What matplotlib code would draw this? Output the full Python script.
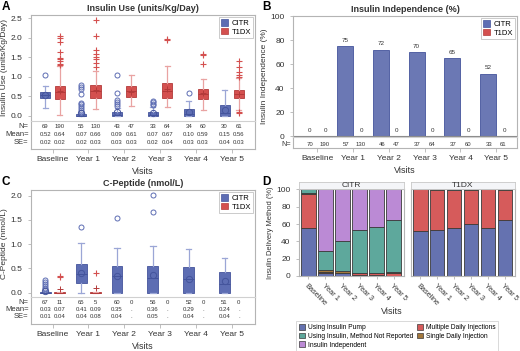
import matplotlib.pyplot as plt
import numpy as np
from matplotlib.patches import Patch

plt.rcParams["font.family"] = ["Liberation Sans", "DejaVu Sans"]

W, H = 520, 351
BLUE = "#5d6db3"
BLUE_DK = "#44549c"
BLUE_LT = "#9ba6d6"
RED = "#d4504f"
RED_DK = "#b33a3a"
RED_LT = "#e9a3a2"
FRAME = "#b4b4b4"
TXT = "#333333"

visits = ["Baseline", "Year 1", "Year 2", "Year 3", "Year 4", "Year 5"]
groups = ["CITR", "T1DX"]

# A: insulin use (units/Kg/Day) - box statistics
use_citr_q1 = [0.45, 0.0, 0.0, 0.0, 0.0, 0.0]
use_citr_med = [0.52, 0.0, 0.02, 0.02, 0.04, 0.06]
use_citr_q3 = [0.60, 0.03, 0.10, 0.10, 0.17, 0.27]
use_citr_lo = [0.20, 0.0, 0.0, 0.0, 0.0, 0.0]
use_citr_hi = [0.77, 0.06, 0.20, 0.22, 0.38, 0.65]
use_citr_fl = [[1.05], [0.1, 0.15, 0.2, 0.25, 0.3, 0.33, 0.55, 0.68, 0.73, 0.78],
               [0.25, 0.3, 0.35, 0.4, 0.57, 1.05], [0.26, 0.3, 0.34, 0.37], [0.57], []]
use_t1dx_q1 = [0.43, 0.45, 0.47, 0.45, 0.42, 0.45]
use_t1dx_med = [0.60, 0.62, 0.62, 0.62, 0.55, 0.55]
use_t1dx_q3 = [0.77, 0.78, 0.75, 0.83, 0.67, 0.65]
use_t1dx_lo = [0.02, 0.17, 0.25, 0.23, 0.15, 0.13]
use_t1dx_hi = [1.28, 1.15, 1.03, 1.27, 0.95, 0.97]
use_t1dx_fl = [[1.30, 1.33, 1.40, 1.45, 1.47, 1.63, 1.90, 2.00, 2.05],
               [1.25, 1.35, 1.45, 1.50, 1.57, 1.68, 2.03, 2.45], [],
               [1.95, 1.97], [1.33, 1.55, 1.57], [0.07, 0.10, 1.0, 1.03, 1.12, 1.25, 1.40]]
use_citr_n = [69, 55, 43, 33, 34, 30]
use_citr_mean = [0.52, 0.07, 0.09, 0.07, 0.10, 0.15]
use_citr_se = [0.02, 0.02, 0.03, 0.02, 0.03, 0.04]
use_t1dx_n = [190, 130, 47, 64, 60, 61]
use_t1dx_mean = [0.64, 0.66, 0.61, 0.67, 0.59, 0.56]
use_t1dx_se = [0.02, 0.03, 0.03, 0.04, 0.03, 0.03]

# B: insulin independence (%)
ind_citr = [0, 75, 72, 70, 65, 52]
ind_t1dx = [0, 0, 0, 0, 0, 0]
ind_citr_n = [70, 57, 46, 37, 37, 33]
ind_t1dx_n = [190, 130, 47, 64, 60, 61]

# C: C-peptide (nmol/L)
cp_citr_q1 = [0.0, 0.19, 0.0, 0.0, 0.0, 0.0]
cp_citr_med = [0.0, 0.38, 0.35, 0.30, 0.28, 0.17]
cp_citr_q3 = [0.02, 0.60, 0.55, 0.54, 0.52, 0.43]
cp_citr_lo = [0.0, 0.0, 0.0, 0.0, 0.0, 0.0]
cp_citr_hi = [0.04, 1.03, 0.93, 0.97, 0.90, 0.72]
cp_citr_fl = [[0.07, 0.10, 0.13, 0.17, 0.22, 0.27], [1.35], [1.53], [1.67, 2.02], [], []]
cp_t1dx_q1 = [0.0, 0.0]
cp_t1dx_med = [0.0, 0.0]
cp_t1dx_q3 = [0.01, 0.02]
cp_t1dx_lo = [0.0, 0.0]
cp_t1dx_hi = [0.02, 0.02]
cp_t1dx_fl = [[0.33, 0.35], [0.40]]
cp_citr_n = [67, 65, 60, 56, 52, 51]
cp_citr_mean = [0.03, 0.41, 0.35, 0.36, 0.29, 0.24]
cp_citr_se = [0.01, 0.04, 0.04, 0.05, 0.04, 0.04]
cp_t1dx_n = [11, 5, 0, 0, 0, 0]
cp_t1dx_mean = [0.07, 0.09, None, None, None, None]
cp_t1dx_se = [0.04, 0.08, None, None, None, None]

# D: insulin delivery method (%)
methods = ["Using Insulin Pump", "Multiple Daily Injections", "Single Daily Injection",
           "Using Insulin, Method Not Reported", "Insulin Independent"]
method_colors = ["#6572b0", "#d65b5b", "#a3773c", "#5ea89c", "#bb8ad5"]
dm_citr = {
    "Using Insulin Pump": [55, 4, 3, 1, 1, 0],
    "Multiple Daily Injections": [40, 1, 1, 2, 2, 3],
    "Single Daily Injection": [1, 2, 2, 0, 1, 2],
    "Using Insulin, Method Not Reported": [4, 22, 35, 50, 53, 60],
    "Insulin Independent": [0, 71, 59, 47, 43, 35],
}
dm_t1dx = {
    "Using Insulin Pump": [52, 53, 56, 60, 56, 65],
    "Multiple Daily Injections": [48, 46, 43, 39, 44, 34],
    "Single Daily Injection": [0, 1, 0, 1, 0, 1],
    "Using Insulin, Method Not Reported": [0, 0, 1, 0, 0, 0],
    "Insulin Independent": [0, 0, 0, 0, 0, 0],
}


def rect(x0, y0, x1, y1):
    return [x0 / W, 1 - y1 / H, (x1 - x0) / W, (y1 - y0) / H]


def frame(ax):
    for s in ax.spines.values():
        s.set_color(FRAME)
        s.set_linewidth(0.8)
    ax.tick_params(colors=FRAME, labelcolor=TXT, labelsize=6, length=2.5, width=0.6)


def draw_boxes(ax, pos, q1, med, q3, lo, hi, mean, fl, kind, width):
    stats = [dict(q1=a, med=b, q3=c, whislo=d, whishi=e, mean=m, fliers=f)
             for a, b, c, d, e, m, f in zip(q1, med, q3, lo, hi, mean, fl)]
    if kind == "CITR":
        fc, ec, lc = BLUE, BLUE_DK, BLUE_LT
        fp = dict(marker="o", markersize=3.6, markerfacecolor="none", markeredgecolor=BLUE,
                  markeredgewidth=0.7)
        mp = dict(marker="o", markersize=4.5, markerfacecolor="none", markeredgecolor=BLUE_DK,
                  markeredgewidth=0.7)
    else:
        fc, ec, lc = RED, RED_DK, RED_LT
        fp = dict(marker="+", markersize=4, markeredgecolor=RED, markeredgewidth=0.8)
        mp = dict(marker="+", markersize=5, markeredgecolor=RED_DK, markeredgewidth=0.7)
    ax.bxp(stats, positions=pos, widths=width, patch_artist=True, showmeans=True,
           boxprops=dict(facecolor=fc, edgecolor=ec, linewidth=0.6),
           medianprops=dict(color=ec, linewidth=0.7),
           whiskerprops=dict(color=lc, linewidth=0.9),
           capprops=dict(color=lc, linewidth=0.9),
           flierprops=fp, meanprops=mp, manage_ticks=False)


def fmt(v, num):
    if v is None:
        return "."
    return f"{v:.2f}" if num else str(v)


def stat_table(ax, rows, ys, label_size=5.5):
    x = np.arange(len(visits))
    for (label, vals_c, vals_t, num), y in zip(rows, ys):
        ax.text(-0.01, y, label, transform=ax.get_yaxis_transform(), ha="right", va="center",
                fontsize=label_size, color=TXT)
        for i in range(len(visits)):
            ax.text(x[i] - 0.2, y, fmt(vals_c[i], num), ha="center", va="center", fontsize=4.3, color=TXT)
            ax.text(x[i] + 0.2, y, fmt(vals_t[i], num), ha="center", va="center", fontsize=4.3, color=TXT)


def legend_ab(ax):
    handles = [Patch(facecolor=BLUE, edgecolor=BLUE_DK, linewidth=0.5),
               Patch(facecolor=RED, edgecolor=RED_DK, linewidth=0.5)]
    leg = ax.legend(handles, groups, loc="upper right", fontsize=5.5, frameon=True, fancybox=False,
                    handlelength=0.9, handleheight=0.9, handletextpad=0.4, borderpad=0.3,
                    labelspacing=0.15, borderaxespad=0.25)
    leg.get_frame().set_edgecolor(FRAME)
    leg.get_frame().set_linewidth(0.6)


def table_axis(ax, xlim):
    frame(ax)
    ax.spines["top"].set_color("#d0d0d0")
    ax.set_xlim(*xlim)
    ax.set_ylim(0, 1)
    ax.set_yticks([])
    ax.set_xticks(np.arange(len(visits)))
    ax.set_xticklabels(visits)
    ax.tick_params(axis="x", length=3, pad=2)
    ax.set_xlabel("Visits", fontsize=6.5, color=TXT, labelpad=3)


fig = plt.figure(figsize=(W / 100, H / 100), dpi=100)
x = np.arange(len(visits))

# ---- A ----
axA = fig.add_axes(rect(31, 15, 255, 121))
axAt = fig.add_axes(rect(31, 121, 255, 149))
frame(axA)
xlimA = (-0.6, 5.65)
draw_boxes(axA, x - 0.2, use_citr_q1, use_citr_med, use_citr_q3, use_citr_lo, use_citr_hi,
           use_citr_mean, use_citr_fl, "CITR", 0.28)
draw_boxes(axA, x + 0.2, use_t1dx_q1, use_t1dx_med, use_t1dx_q3, use_t1dx_lo, use_t1dx_hi,
           use_t1dx_mean, use_t1dx_fl, "T1DX", 0.28)
axA.set_xlim(*xlimA)
axA.set_ylim(-0.14, 2.58)
axA.set_yticks([0, 0.5, 1.0, 1.5, 2.0, 2.5])
axA.set_yticklabels(["0.0", "0.5", "1.0", "1.5", "2.0", "2.5"])
axA.tick_params(axis="x", bottom=False, labelbottom=False)
axA.spines["bottom"].set_visible(False)
axA.set_ylabel("Insulin Use (units/Kg/Day)", fontsize=6, color=TXT, labelpad=2)
axA.set_title("Insulin Use (units/Kg/Day)", fontsize=6.5, fontweight="bold", color=TXT, pad=3)
legend_ab(axA)
table_axis(axAt, xlimA)
stat_table(axAt, [("N=", use_citr_n, use_t1dx_n, False),
                  ("Mean=", use_citr_mean, use_t1dx_mean, True),
                  ("SE=", use_citr_se, use_t1dx_se, True)], [0.79, 0.53, 0.25])

# ---- B ----
axB = fig.add_axes(rect(293, 16, 517, 137))
axBt = fig.add_axes(rect(293, 137, 517, 148))
frame(axB)
xlimB = (-0.68, 5.58)
bc = axB.bar(x - 0.225, ind_citr, 0.45, color="#6b78b4", edgecolor=BLUE_DK, linewidth=0.6)
bt = axB.bar(x + 0.225, ind_t1dx, 0.45, color=RED, edgecolor=RED_DK, linewidth=0.6)
for bars, vals in ((bc, ind_citr), (bt, ind_t1dx)):
    for b, v in zip(bars, vals):
        axB.annotate(str(v), (b.get_x() + b.get_width() / 2, v), xytext=(0, 2.5),
                     textcoords="offset points", ha="center", va="bottom", fontsize=4.5, color=TXT)
axB.set_xlim(*xlimB)
axB.set_ylim(-0.8, 100.3)
axB.set_yticks([0, 20, 40, 60, 80, 100])
axB.tick_params(axis="x", bottom=False, labelbottom=False)
axB.spines["bottom"].set_visible(False)
axB.axhline(0, color="#8a8a8a", linewidth=0.8)
axB.set_ylabel("Insulin Independence (%)", fontsize=6, color=TXT, labelpad=2)
axB.set_title("Insulin Independence (%)", fontsize=6.5, fontweight="bold", color=TXT, pad=3)
legend_ab(axB)
table_axis(axBt, xlimB)
stat_table(axBt, [("N=", ind_citr_n, ind_t1dx_n, False)], [0.35], label_size=5.2)

# ---- C ----
axC = fig.add_axes(rect(31, 190, 255, 297))
axCt = fig.add_axes(rect(31, 297, 255, 324))
frame(axC)
draw_boxes(axC, x - 0.2, cp_citr_q1, cp_citr_med, cp_citr_q3, cp_citr_lo, cp_citr_hi,
           cp_citr_mean, cp_citr_fl, "CITR", 0.3)
draw_boxes(axC, x[:2] + 0.2, cp_t1dx_q1, cp_t1dx_med, cp_t1dx_q3, cp_t1dx_lo, cp_t1dx_hi,
           cp_t1dx_mean[:2], cp_t1dx_fl, "T1DX", 0.3)
axC.set_xlim(*xlimA)
axC.set_ylim(-0.09, 2.118)
axC.set_yticks([0, 0.5, 1.0, 1.5, 2.0])
axC.set_yticklabels(["0.0", "0.5", "1.0", "1.5", "2.0"])
axC.tick_params(axis="x", bottom=False, labelbottom=False)
axC.spines["bottom"].set_visible(False)
axC.set_ylabel("C-Peptide (nmol/L)", fontsize=6, color=TXT, labelpad=2)
axC.set_title("C-Peptide (nmol/L)", fontsize=6.5, fontweight="bold", color=TXT, pad=3)
legend_ab(axC)
table_axis(axCt, xlimA)
stat_table(axCt, [("N=", cp_citr_n, cp_t1dx_n, False),
                  ("Mean=", cp_citr_mean, cp_t1dx_mean, True),
                  ("SE=", cp_citr_se, cp_t1dx_se, True)], [0.79, 0.55, 0.27])

# ---- D ----
for k, (name, data, x0, x1) in enumerate((("CITR", dm_citr, 299, 404), ("T1DX", dm_t1dx, 411, 515))):
    ax = fig.add_axes(rect(x0, 189, x1, 276))
    hd = fig.add_axes(rect(x0, 182, x1, 189))
    hd.set_xticks([])
    hd.set_yticks([])
    hd.set_facecolor("#f4f5f8")
    for s in hd.spines.values():
        s.set_color("#c8c8c8")
        s.set_linewidth(0.6)
    hd.text(0.5, 0.45, name, ha="center", va="center", fontsize=6, color=TXT, transform=hd.transAxes)
    frame(ax)
    bottom = np.zeros(len(visits))
    for m, c in zip(methods, method_colors):
        vals = np.array(data[m], dtype=float)
        ax.bar(x, vals, 0.86, bottom=bottom, color=c, edgecolor="#3a3a3a", linewidth=0.6)
        bottom += vals
    ax.set_xlim(-0.55, 5.6)
    ax.set_ylim(0, 100.5)
    ax.set_xticks(x)
    ax.set_xticklabels(visits, rotation=-45, ha="left", va="top", rotation_mode="anchor", fontsize=5.3)
    ax.tick_params(axis="x", pad=2)
    if k == 0:
        ax.set_yticks([0, 20, 40, 60, 80, 100])
        ax.set_ylabel("Insulin Delivery Method (%)", fontsize=5.4, color=TXT, labelpad=2)
    else:
        ax.set_yticks([])

fig.text(392 / W, 1 - 312 / H, "Visits", ha="center", va="center", fontsize=6.5, color=TXT)
handles = [Patch(facecolor=c, edgecolor="#3a3a3a", linewidth=0.5) for c in method_colors]
order = [0, 3, 4, 1, 2]
leg = fig.legend([handles[i] for i in order], [methods[i] for i in order], ncol=2,
                 loc="upper left", bbox_to_anchor=(293 / W, 1 - 318 / H), fontsize=4.8,
                 frameon=True, fancybox=False, handlelength=0.9, handleheight=0.9,
                 handletextpad=0.4, columnspacing=0.6, labelspacing=0.25, borderpad=0.4)
leg.get_frame().set_edgecolor("#c8c8c8")
leg.get_frame().set_linewidth(0.6)

for letter, px, py in (("A", 2, 1), ("B", 262, 1), ("C", 2, 176), ("D", 262, 176)):
    fig.text(px / W, 1 - py / H, letter, ha="left", va="top", fontsize=8.5, fontweight="bold")

fig.savefig("out.png", dpi=100)
